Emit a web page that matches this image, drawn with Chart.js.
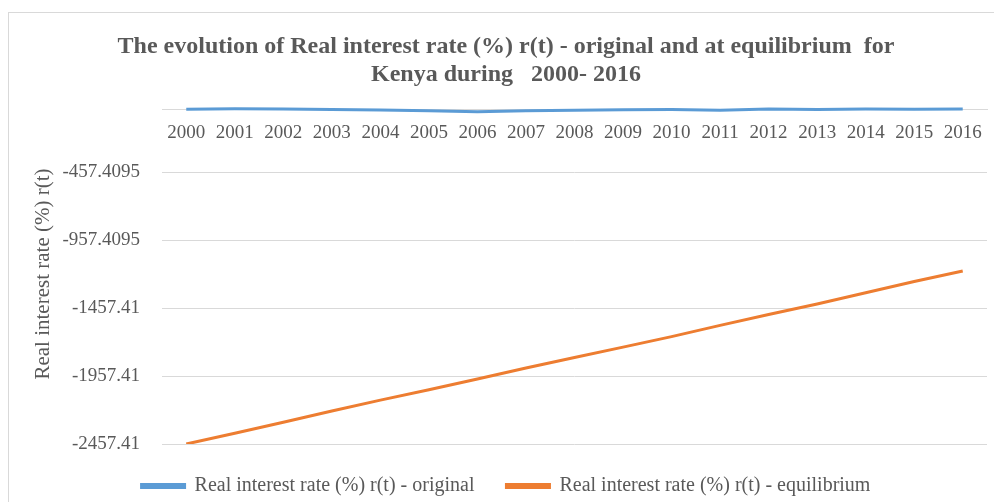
<!DOCTYPE html>
<html lang="en">
<head>
    <meta charset="UTF-8">
    <title>Real interest rate - Kenya 2000-2016</title>
    <script src="https://cdn.jsdelivr.net/npm/chart.js"></script>
    <style>
        body {
            margin: 0;
            background: #ffffff;
            overflow: hidden;
        }
        #frame {
            position: absolute;
            left: 8px;
            top: 12px;
            width: 1000px;
            height: 600px;
            border: 1px solid #d9d9d9;
            pointer-events: none;
        }
        #graph {
            position: absolute;
            left: 0;
            top: 0;
        }
    </style>
</head>
<body>
    <canvas id="graph" width="994" height="520"></canvas>
    <div id="frame"></div>

    <script>
        // chart data
        const years = ['2000', '2001', '2002', '2003', '2004', '2005', '2006', '2007', '2008',
                       '2009', '2010', '2011', '2012', '2013', '2014', '2015', '2016'];
        const rateOriginal = [4, 7, 6, 3, -2, -7, -14, -7, -3, 1, 2, -4, 5, 3, 5, 4, 5];
        const rateEquilibrium = [-2457.4, -2378, -2298, -2215, -2135, -2058, -1980, -1898, -1822,
                                 -1745, -1668, -1585, -1505, -1428, -1345, -1262, -1185];
        // y tick labels, bottom to top (top one is not shown)
        const yTickLabels = ['-2457.41', '-1957.41', '-1457.41', '-957.4095', '-457.4095', null];

        const grey = '#595959';
        const serif = 'Liberation Serif, Times New Roman, serif';

        const ctx = document.getElementById('graph').getContext('2d');
        new Chart(ctx, {
            type: 'line',
            data: {
                labels: years,
                datasets: [
                    {
                        label: 'Real interest rate (%) r(t) - original',
                        data: rateOriginal,
                        borderColor: '#5b9bd5',
                        backgroundColor: '#5b9bd5',
                        borderWidth: 3,
                        pointRadius: 0,
                        fill: false
                    },
                    {
                        label: 'Real interest rate (%) r(t) - equilibrium',
                        data: rateEquilibrium,
                        borderColor: '#ed7d31',
                        backgroundColor: '#ed7d31',
                        borderWidth: 3,
                        pointRadius: 0,
                        fill: false
                    }
                ]
            },
            options: {
                responsive: false,
                animation: false,
                layout: {
                    padding: { left: 25, right: 7, top: 0, bottom: 14 }
                },
                plugins: {
                    title: {
                        display: true,
                        text: ['The evolution of Real interest rate (%) r(t) - original and at equilibrium  for',
                               'Kenya during   2000- 2016'],
                        color: grey,
                        font: { family: serif, size: 24, weight: 'bold', lineHeight: 1.1667 },
                        padding: { top: 33, bottom: 15 }
                    },
                    legend: {
                        position: 'bottom',
                        labels: {
                            color: grey,
                            font: { family: serif, size: 20 },
                            boxWidth: 43,
                            boxHeight: 3,
                            padding: 32
                        }
                    },
                    tooltip: { enabled: false }
                },
                scales: {
                    x: {
                        position: { y: 0 },
                        offset: true,
                        grid: { display: false, drawTicks: false },
                        border: { color: '#d9d9d9' },
                        ticks: {
                            color: grey,
                            font: { family: serif, size: 19 },
                            padding: 12,
                            maxRotation: 0,
                            autoSkip: false
                        }
                    },
                    y: {
                        min: -2457.4095,
                        max: 42.5905,
                        border: { display: false },
                        grid: { color: '#d9d9d9', drawTicks: false },
                        ticks: {
                            stepSize: 500,
                            color: grey,
                            font: { family: serif, size: 19 },
                            padding: 22,
                            callback: (value, index) => yTickLabels[index]
                        },
                        title: {
                            display: true,
                            text: 'Real interest rate (%) r(t)',
                            color: grey,
                            font: { family: serif, size: 21 },
                            padding: { top: 6, bottom: 0 }
                        },
                        afterFit: (scale) => { scale.width = 137; }
                    }
                }
            }
        });
    </script>
</body>
</html>
